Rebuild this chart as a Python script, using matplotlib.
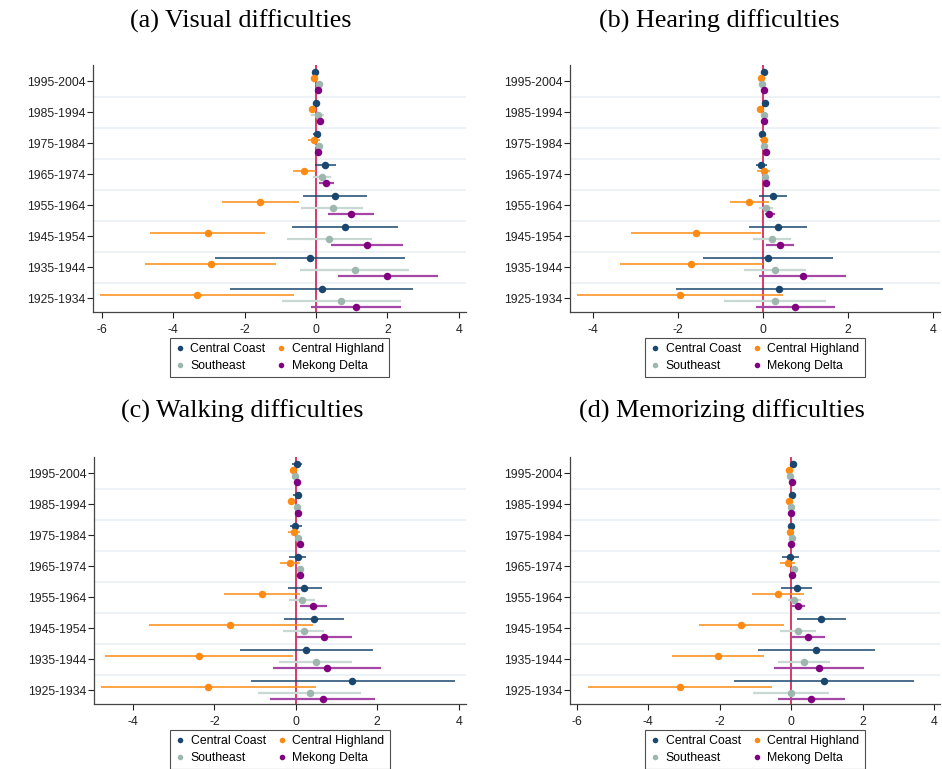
import numpy as np
import matplotlib
matplotlib.use("Agg")
import matplotlib.pyplot as plt
from matplotlib.lines import Line2D

# cohorts, top to bottom
cohorts = ["1995-2004", "1985-1994", "1975-1984", "1965-1974",
           "1955-1964", "1945-1954", "1935-1944", "1925-1934"]
regions = ["Central Coast", "Central Highland", "Southeast", "Mekong Delta"]

# (a) visual: rows = regions, cols = cohorts
vis_coef = [[-0.03, 0.01, 0.02, 0.26, 0.52, 0.82, -0.17, 0.16],
            [-0.05, -0.12, -0.07, -0.33, -1.56, -3.04, -2.95, -3.34],
            [0.07, 0.05, 0.08, 0.16, 0.46, 0.37, 1.08, 0.71],
            [0.04, 0.12, 0.06, 0.28, 0.98, 1.42, 2.00, 1.11]]
vis_lo = [[-0.08, -0.06, -0.10, -0.03, -0.38, -0.67, -2.82, -2.41],
          [-0.10, -0.18, -0.24, -0.65, -2.63, -4.66, -4.79, -6.04],
          [0.01, -0.13, -0.04, -0.09, -0.41, -0.81, -0.44, -0.95],
          [-0.01, 0.06, 0.00, 0.07, 0.34, 0.43, 0.60, -0.14]]
vis_hi = [[0.02, 0.07, 0.12, 0.56, 1.43, 2.30, 2.49, 2.72],
          [0.00, -0.06, 0.11, 0.00, -0.48, -1.42, -1.11, -0.63],
          [0.13, 0.23, 0.19, 0.41, 1.31, 1.56, 2.61, 2.38],
          [0.09, 0.18, 0.12, 0.50, 1.62, 2.43, 3.42, 2.38]]

# (b) hearing
hear_coef = [[0.01, 0.05, -0.03, -0.04, 0.23, 0.34, 0.12, 0.38],
             [-0.05, -0.08, 0.01, 0.01, -0.32, -1.58, -1.69, -1.96],
             [-0.02, 0.02, 0.02, 0.05, 0.07, 0.20, 0.27, 0.27],
             [0.02, 0.02, 0.06, 0.06, 0.15, 0.39, 0.93, 0.76]]
hear_lo = [[-0.04, 0.00, -0.10, -0.16, -0.10, -0.34, -1.41, -2.05],
           [-0.10, -0.13, -0.08, -0.14, -0.77, -3.11, -3.37, -4.38],
           [-0.07, -0.03, -0.03, 0.00, -0.09, -0.24, -0.46, -0.93],
           [-0.03, -0.03, 0.01, 0.01, 0.04, 0.07, -0.09, -0.16]]
hear_hi = [[0.06, 0.10, 0.07, 0.09, 0.56, 1.03, 1.65, 2.82],
           [0.00, -0.03, 0.10, 0.16, 0.13, -0.05, 0.00, 0.47],
           [0.03, 0.07, 0.07, 0.10, 0.23, 0.66, 1.00, 1.49],
           [0.07, 0.07, 0.11, 0.11, 0.27, 0.72, 1.96, 1.69]]

# (c) walking
walk_coef = [[0.03, 0.04, -0.01, 0.04, 0.21, 0.45, 0.26, 1.39],
             [-0.07, -0.11, -0.05, -0.14, -0.84, -1.61, -2.39, -2.16],
             [-0.01, 0.03, 0.05, 0.09, 0.16, 0.20, 0.49, 0.34],
             [0.02, 0.04, 0.09, 0.11, 0.43, 0.70, 0.77, 0.66]]
walk_lo = [[-0.10, -0.07, -0.14, -0.16, -0.20, -0.28, -1.37, -1.11],
           [-0.12, -0.16, -0.20, -0.38, -1.76, -3.61, -4.70, -4.80],
           [-0.06, -0.02, 0.00, 0.03, -0.16, -0.31, -0.41, -0.93],
           [-0.03, -0.01, 0.04, 0.05, 0.09, 0.02, -0.55, -0.63]]
walk_hi = [[0.15, 0.14, 0.14, 0.26, 0.63, 1.18, 1.89, 3.90],
           [-0.02, -0.06, 0.11, 0.11, 0.10, 0.41, -0.08, 0.49],
           [0.04, 0.08, 0.10, 0.15, 0.48, 0.70, 1.39, 1.61],
           [0.07, 0.09, 0.14, 0.17, 0.77, 1.38, 2.08, 1.95]]

# (d) memorizing
mem_coef = [[0.05, 0.03, 0.01, -0.03, 0.16, 0.85, 0.71, 0.93],
            [-0.05, -0.07, -0.02, -0.10, -0.38, -1.39, -2.04, -3.11],
            [-0.02, 0.01, 0.03, 0.09, 0.08, 0.20, 0.36, -0.01],
            [0.02, 0.01, 0.00, 0.03, 0.19, 0.47, 0.79, 0.56]]
mem_lo = [[0.00, -0.02, -0.04, -0.25, -0.28, 0.16, -0.92, -1.59],
          [-0.10, -0.12, -0.07, -0.31, -1.10, -2.59, -3.33, -5.68],
          [-0.07, -0.04, -0.02, 0.04, -0.10, -0.30, -0.36, -1.08],
          [-0.03, -0.04, -0.05, -0.02, 0.01, 0.00, -0.48, -0.38]]
mem_hi = [[0.10, 0.08, 0.06, 0.21, 0.58, 1.53, 2.35, 3.43],
          [0.00, -0.02, 0.03, 0.11, 0.36, -0.19, -0.75, -0.54],
          [0.03, 0.06, 0.08, 0.14, 0.27, 0.69, 1.08, 1.07],
          [0.07, 0.06, 0.05, 0.08, 0.38, 0.95, 2.05, 1.50]]

titles = ["(a) Visual difficulties", "(b) Hearing difficulties",
          "(c) Walking difficulties", "(d) Memorizing difficulties"]
xticks = [[-6, -4, -2, 0, 2, 4], [-4, -2, 0, 2, 4],
          [-4, -2, 0, 2, 4], [-6, -4, -2, 0, 2, 4]]
xlims = [(-6.25, 4.2), (-4.54, 4.16), (-4.96, 4.18), (-6.19, 4.17)]

dot_cols = ["#1a476f", "#fd8a12", "#9db7af", "#80007f"]
ci_cols = ["#1a476f", "#fd8a12", "#c8d8d3", "#a548a5"]
ci_lw = [1.1, 1.1, 1.6, 1.6]
offsets = [-0.3, -0.1, 0.1, 0.3]

W, H = 942, 769
# axes boxes in pixels: left, top, right, bottom
boxes = [(93, 65, 466, 312), (570, 65, 940, 312),
         (94, 457, 466, 704), (570, 457, 940, 704)]
title_pos = [(241, 21), (719, 21), (242, 411), (722, 411)]

plt.rcParams['font.family'] = ['Liberation Sans', 'DejaVu Sans']
fig = plt.figure(figsize=(W / 100, H / 100), dpi=100)

panels = [(vis_coef, vis_lo, vis_hi), (hear_coef, hear_lo, hear_hi),
          (walk_coef, walk_lo, walk_hi), (mem_coef, mem_lo, mem_hi)]

ypos = np.arange(len(cohorts))
for k, (coef, lo, hi) in enumerate(panels):
    l, t, r, b = boxes[k]
    ax = fig.add_axes([l / W, 1 - b / H, (r - l) / W, (b - t) / H])
    for g in range(len(cohorts) - 1):
        ax.axhline(g + 0.5, color="#e9f0f4", lw=1.2, zorder=0)
    ax.axvline(0, color="#d52b5b", lw=1.3, zorder=1)
    for j in range(4):
        c = np.array(coef[j])
        y = ypos + offsets[j]
        ax.hlines(y, lo[j], hi[j], color=ci_cols[j], lw=ci_lw[j], zorder=2)
        ax.plot(c, y, "o", color=dot_cols[j], ms=5.4, mew=0, zorder=3)
    ax.set_ylim(7.45, -0.52)
    ax.set_xlim(*xlims[k])
    ax.set_yticks(ypos)
    ax.set_yticklabels(cohorts)
    ax.set_xticks(xticks[k])
    ax.set_xticklabels([str(v) for v in xticks[k]])
    ax.tick_params(axis="both", labelsize=8.8, colors="#222222", length=4,
                   width=0.8)
    ax.tick_params(axis="y", pad=1.5)
    ax.tick_params(axis="x", pad=4.5)
    for s in ["top", "right"]:
        ax.spines[s].set_visible(False)
    for s in ["left", "bottom"]:
        ax.spines[s].set_color("#444444")
        ax.spines[s].set_linewidth(0.9)

    handles = [Line2D([], [], ls="", marker="o", ms=4, mew=0, color=dot_cols[j])
               for j in range(4)]
    order = [0, 2, 1, 3]
    leg = ax.legend([handles[i] for i in order], [regions[i] for i in order],
                    ncol=2, loc="upper center", bbox_to_anchor=(0.5, -0.105),
                    fontsize=8.8, frameon=True, fancybox=False,
                    handlelength=0.8, handletextpad=0.45, columnspacing=0.9,
                    borderpad=0.42, labelspacing=0.42, borderaxespad=0)
    leg.get_frame().set_edgecolor("#222222")
    leg.get_frame().set_linewidth(0.8)

    tx, ty = title_pos[k]
    fig.text(tx / W, 1 - ty / H, titles[k], ha="center", va="center",
             fontsize=18.8, family="Liberation Serif")

fig.savefig("out.png", dpi=100)
